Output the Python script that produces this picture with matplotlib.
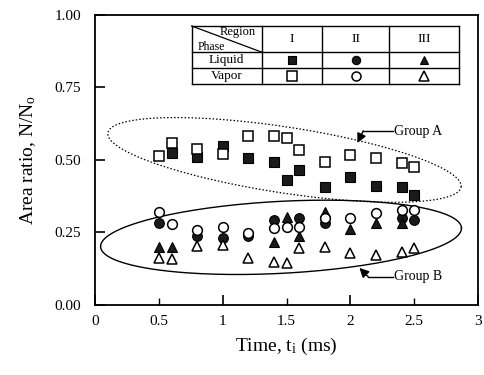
import numpy as np
import matplotlib
matplotlib.use("Agg")
import matplotlib.pyplot as plt

plt.rcParams['font.family'] = ['Liberation Serif', 'DejaVu Serif']
plt.rcParams['mathtext.fontset'] = 'custom'
plt.rcParams['mathtext.rm'] = 'Liberation Serif'
plt.rcParams['mathtext.it'] = 'Liberation Serif:italic'

# Region I (squares)
liq_I_x = [0.6, 0.8, 1.0, 1.2, 1.4, 1.5, 1.6, 1.8, 2.0, 2.2, 2.4, 2.5]
liq_I_y = [0.523, 0.511, 0.549, 0.508, 0.492, 0.431, 0.466, 0.406, 0.440, 0.410, 0.405, 0.379]
vap_I_x = [0.5, 0.6, 0.8, 1.0, 1.2, 1.4, 1.5, 1.6, 1.8, 2.0, 2.2, 2.4, 2.5]
vap_I_y = [0.515, 0.557, 0.538, 0.520, 0.584, 0.584, 0.577, 0.534, 0.494, 0.517, 0.506, 0.489, 0.477]

# Region II (circles)
liq_II_x = [0.5, 0.8, 1.0, 1.2, 1.4, 1.6, 1.8, 2.4, 2.5]
liq_II_y = [0.282, 0.239, 0.230, 0.236, 0.293, 0.299, 0.282, 0.299, 0.293]
vap_II_x = [0.5, 0.6, 0.8, 1.0, 1.2, 1.4, 1.5, 1.6, 1.8, 2.0, 2.2, 2.4, 2.5]
vap_II_y = [0.322, 0.278, 0.259, 0.268, 0.247, 0.264, 0.270, 0.270, 0.299, 0.299, 0.316, 0.328, 0.328]

# Region III (triangles)
liq_III_x = [0.5, 0.6, 1.4, 1.5, 1.6, 1.8, 2.0, 2.2, 2.4]
liq_III_y = [0.201, 0.198, 0.218, 0.304, 0.236, 0.322, 0.262, 0.282, 0.282]
vap_III_x = [0.5, 0.6, 0.8, 1.0, 1.2, 1.4, 1.5, 1.6, 1.8, 2.0, 2.2, 2.4, 2.5]
vap_III_y = [0.163, 0.159, 0.204, 0.207, 0.163, 0.149, 0.146, 0.195, 0.201, 0.178, 0.172, 0.182, 0.195]

fig = plt.figure(figsize=(4.84, 3.75), dpi=100)
ax = fig.add_axes([0.196, 0.187, 0.792, 0.773])
ax.set_xlim(0, 3)
ax.set_ylim(0, 1)

# pixels per data unit (for shapes drawn in screen proportions)
sx, sy = 128.0, 290.0

def ellipse(cx, cy, a, b, ang):
    t = np.linspace(0, 2 * np.pi, 300)
    u = a * np.cos(t)
    v = b * np.sin(t)
    r = np.deg2rad(ang)
    px = u * np.cos(r) - v * np.sin(r)
    py = u * np.sin(r) + v * np.cos(r)
    return cx + px / sx, cy + py / sy

ex, ey = ellipse(1.484, 0.50, 179, 33, -8.7)
ax.plot(ex, ey, color='k', lw=0.9, ls=(0, (1.2, 1.6)))
ex, ey = ellipse(1.457, 0.233, 181, 36, 3.0)
ax.plot(ex, ey, color='k', lw=1.0)

fill_c = '#1a1a1a'
ax.plot(liq_I_x, liq_I_y, 's', ms=6.5, mfc=fill_c, mec='k', mew=0.8)
ax.plot(liq_II_x, liq_II_y, 'o', ms=7, mfc=fill_c, mec='k', mew=0.8)
ax.plot(liq_III_x, liq_III_y, '^', ms=7, mfc=fill_c, mec='k', mew=0.8)
ax.plot(vap_I_x, vap_I_y, 's', ms=6.5, mfc='white', mec='k', mew=1.1)
ax.plot(vap_II_x, vap_II_y, 'o', ms=7, mfc='white', mec='k', mew=1.1)
ax.plot(vap_III_x, vap_III_y, '^', ms=7, mfc='white', mec='k', mew=1.1)

# group labels
ax.text(2.34, (305 - 132) / sy, 'Group A', fontsize=10, va='center', ha='left')
ax.plot([2.33, 2.1], [(305 - 131) / sy] * 2, color='k', lw=1)
ax.annotate('', xy=((358 - 95) / sx, (305 - 143) / sy), xytext=(2.1, (305 - 131) / sy),
            arrowprops=dict(arrowstyle='-|>', color='k', lw=1, mutation_scale=14,
                            shrinkA=0, shrinkB=0))
ax.text(2.34, (305 - 277) / sy, 'Group B', fontsize=10, va='center', ha='left')
ax.plot([2.33, 2.14], [(305 - 277) / sy] * 2, color='k', lw=1)
ax.annotate('', xy=((360 - 95) / sx, (305 - 268) / sy), xytext=(2.14, (305 - 277) / sy),
            arrowprops=dict(arrowstyle='-|>', color='k', lw=1, mutation_scale=14,
                            shrinkA=0, shrinkB=0))

# legend table
tx = [0.758, 1.305, 1.781, 2.305, 2.852]
ty = [0.962, 0.872, 0.817, 0.762]
for yy in ty:
    ax.plot([tx[0], tx[-1]], [yy, yy], color='k', lw=1.0)
for xx in tx:
    ax.plot([xx, xx], [ty[0], ty[-1]], color='k', lw=1.0)
ax.plot([tx[0], tx[1]], [ty[0], ty[1]], color='k', lw=0.9)
ax.text(1.12, 0.942, 'Region', fontsize=9, ha='center', va='center')
ax.text(0.91, 0.888, 'Phase', fontsize=8.5, ha='center', va='center')
for i, lab in enumerate(['I', 'II', 'III']):
    ax.text((tx[i + 1] + tx[i + 2]) / 2, (ty[0] + ty[1]) / 2, lab, fontsize=9.5,
            ha='center', va='center')
ax.text((tx[0] + tx[1]) / 2, (ty[1] + ty[2]) / 2, 'Liquid', fontsize=9.5, ha='center', va='center')
ax.text((tx[0] + tx[1]) / 2, (ty[2] + ty[3]) / 2, 'Vapor', fontsize=9.5, ha='center', va='center')
for i, m in enumerate(['s', 'o', '^']):
    cxm = (tx[i + 1] + tx[i + 2]) / 2
    ax.plot(cxm, (ty[1] + ty[2]) / 2, m, ms=6, mfc=fill_c, mec='k', mew=0.8)
    ax.plot(cxm, (ty[2] + ty[3]) / 2, m, ms=6.5, mfc='white', mec='k', mew=1.1)

# axes styling
ax.set_xticks([0, 1, 2, 3])
ax.set_xticklabels(['0', '1', '2', '3'])
ax.set_xticks([0.5, 1.5, 2.5], minor=True)
ax.set_xticklabels(['0.5', '1.5', '2.5'], minor=True)
ax.set_yticks([0, 0.25, 0.5, 0.75, 1.0])
ax.set_yticklabels(['0.00', '0.25', '0.50', '0.75', '1.00'])
ax.tick_params(axis='both', which='major', direction='in', length=7, width=1.2, labelsize=11, pad=7)
ax.tick_params(axis='x', which='minor', direction='in', length=5, width=1.0, labelsize=11, pad=7)
ax.tick_params(axis='y', which='major', pad=10)
for s in ax.spines.values():
    s.set_linewidth(1.3)

ax.set_xlabel('Time, t$_\\mathregular{i}$ (ms)', fontsize=14, labelpad=6)
ax.set_ylabel('Area ratio, N/N$_\\mathregular{o}$', fontsize=14, labelpad=12)

plt.savefig('out.png', dpi=100, facecolor='white')
